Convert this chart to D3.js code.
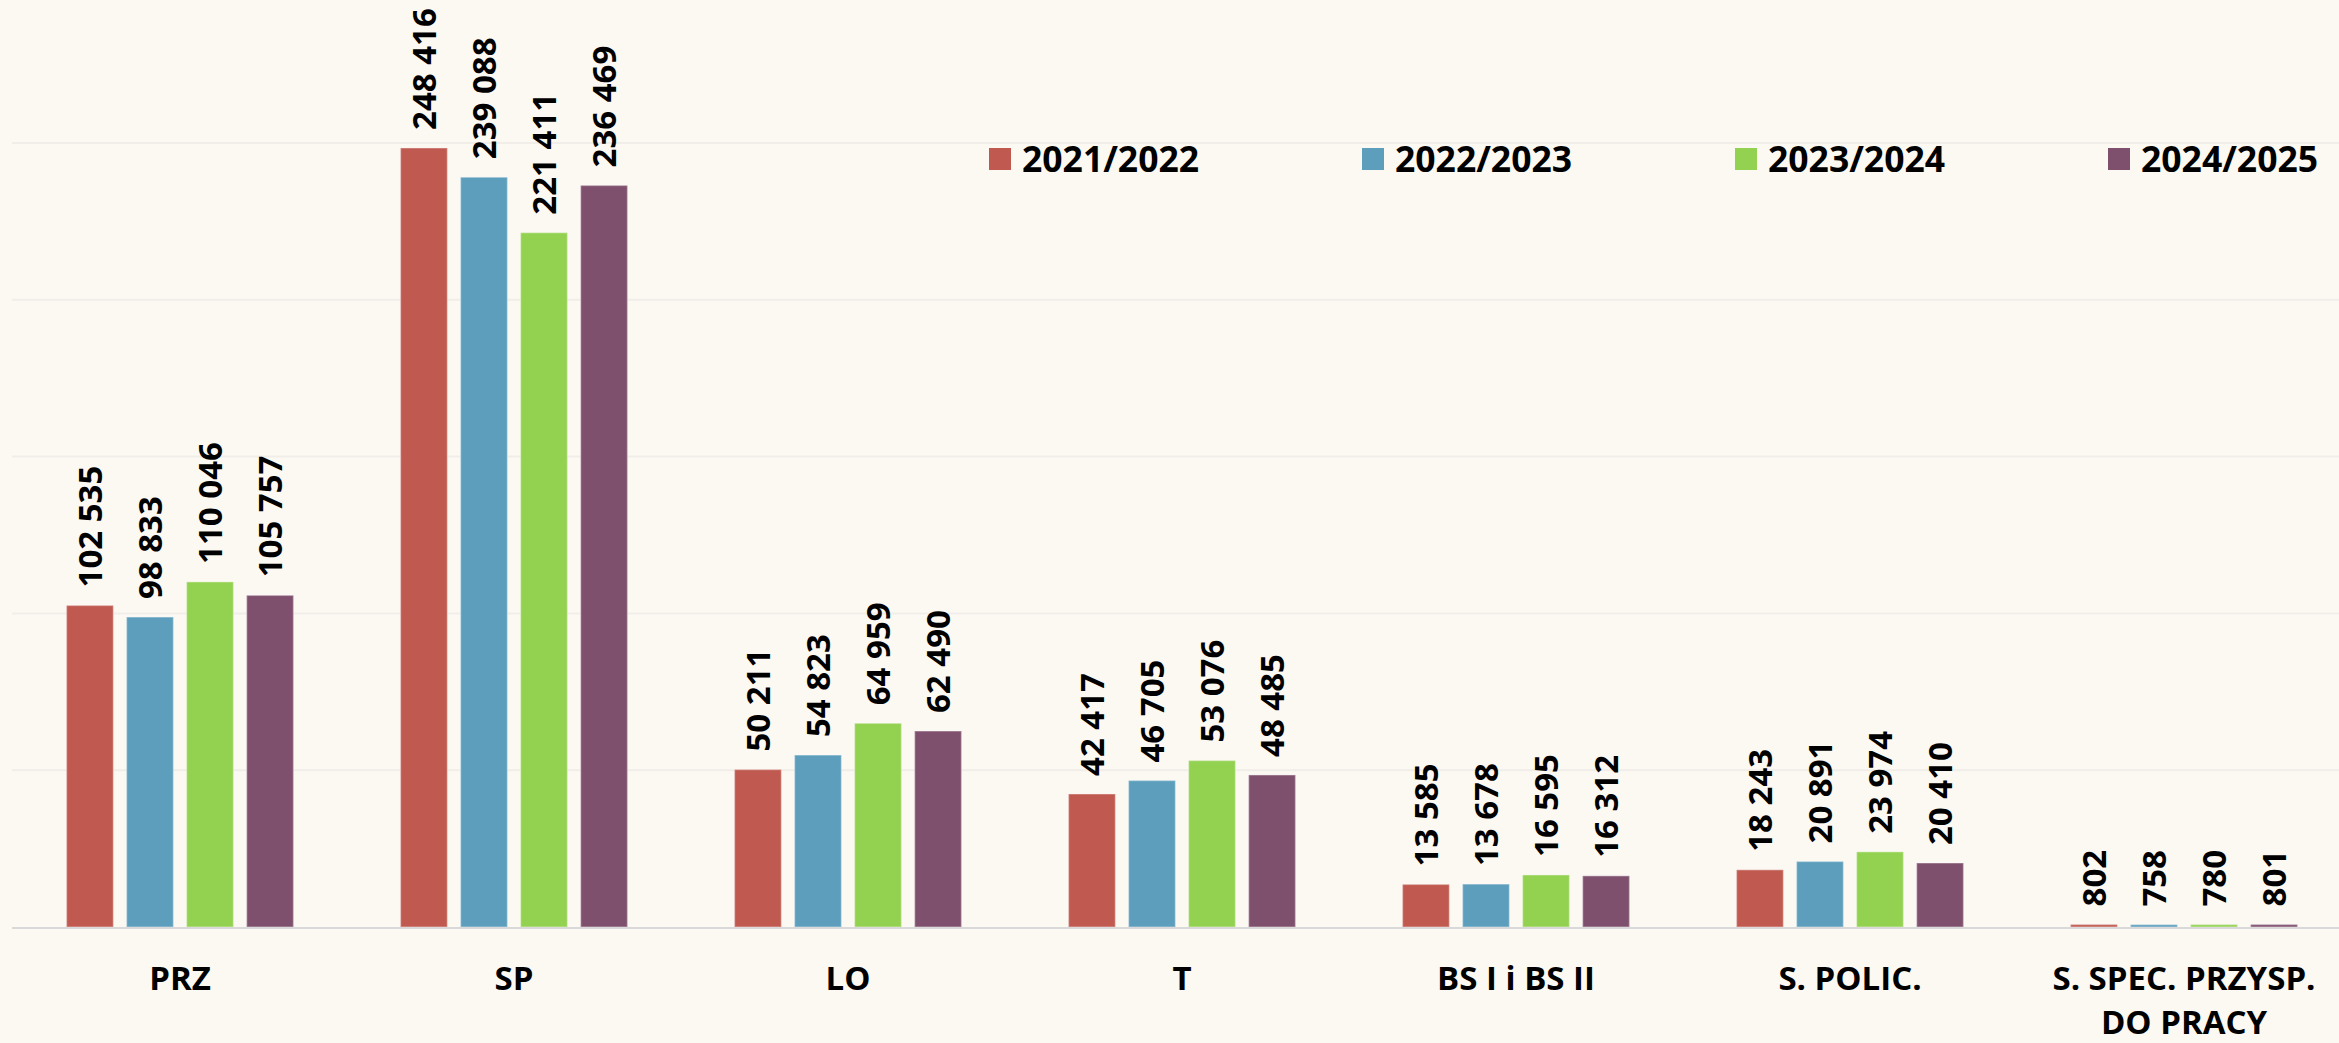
<!DOCTYPE html>
<html lang="pl">
  <head>
    <meta charset="UTF-8">
    <script src="https://d3js.org/d3.v7.min.js"></script>
    <title>Liczba uczniów</title>
    <style>
      html, body {
        margin: 0;
        padding: 0;
        background-color: #FCF8F2;
      }
      svg {
        display: block;
        font-family: "Open Sans", sans-serif;
      }
      .value-label {
        font-size: 33px;
        font-weight: 700;
        fill: #000;
      }
      .cat-label {
        font-size: 33px;
        font-weight: 700;
        fill: #000;
      }
      .legend-label {
        font-size: 35.5px;
        font-weight: 700;
        fill: #000;
      }
    </style>
  </head>
  <body>
    <div id="chart"></div>
    <script>
      // dane
      const categories = ["PRZ", "SP", "LO", "T", "BS I i BS II", "S. POLIC.", "S. SPEC. PRZYSP.\nDO PRACY"];
      const years = ["2021/2022", "2022/2023", "2023/2024", "2024/2025"];
      const values2122 = [102535, 248416, 50211, 42417, 13585, 18243, 802];
      const values2223 = [98833, 239088, 54823, 46705, 13678, 20891, 758];
      const values2324 = [110046, 221411, 64959, 53076, 16595, 23974, 780];
      const values2425 = [105757, 236469, 62490, 48485, 16312, 20410, 801];
      const yTicks = [0, 50000, 100000, 150000, 200000, 250000];

      const series = [values2122, values2223, values2324, values2425];
      const colors = ["#C0594F", "#5C9EBC", "#93D150", "#7F506E"];

      const width = 2339;
      const height = 1043;

      const svg = d3.select("#chart")
        .append("svg")
        .attr("width", width)
        .attr("height", height);

      const x0 = d3.scaleBand()
        .domain(categories)
        .range([13, 2351])
        .paddingInner(0.281)
        .paddingOuter(0.1405);

      const x1 = d3.scaleBand()
        .domain(years)
        .range([0, x0.bandwidth()])
        .paddingInner(0.22)
        .paddingOuter(0.11);

      const y = d3.scaleLinear()
        .domain([0, 250000])
        .range([927, 143]);

      const fmt = d3.formatLocale({ decimal: ",", thousands: " ", grouping: [3], currency: ["", " zł"] }).format(",d");

      // linie siatki
      svg.append("g")
        .selectAll("line")
        .data(yTicks.slice(1))
        .join("line")
        .attr("x1", 12)
        .attr("x2", width)
        .attr("y1", d => y(d))
        .attr("y2", d => y(d))
        .attr("stroke", "#F1EEEA")
        .attr("stroke-width", 2);

      // słupki
      const groups = svg.append("g")
        .selectAll("g")
        .data(categories)
        .join("g")
        .attr("transform", d => `translate(${x0(d)},0)`);

      const cells = groups.selectAll("g")
        .data((c, ci) => years.map((yr, si) => ({ yr, si, value: series[si][ci] })))
        .join("g");

      cells.append("rect")
        .attr("x", d => x1(d.yr))
        .attr("width", x1.bandwidth())
        .attr("y", d => y(d.value))
        .attr("height", d => y(0) - y(d.value))
        .attr("fill", d => colors[d.si])
        .attr("stroke", "#ffffff")
        .attr("stroke-opacity", 0.3)
        .attr("stroke-width", 1.5);

      cells.append("text")
        .attr("class", "value-label")
        .attr("transform", d => `translate(${x1(d.yr) + x1.bandwidth() / 2},${y(d.value) - 18}) rotate(-90)`)
        .attr("text-anchor", "start")
        .attr("dy", "0.36em")
        .text(d => fmt(d.value));

      // oś X
      svg.append("line")
        .attr("x1", 12)
        .attr("x2", width)
        .attr("y1", y(0) + 1)
        .attr("y2", y(0) + 1)
        .attr("stroke", "#D9D9D9")
        .attr("stroke-width", 2);

      const catLabels = svg.append("g")
        .selectAll("text")
        .data(categories)
        .join("text")
        .attr("class", "cat-label")
        .attr("text-anchor", "middle")
        .attr("x", d => x0(d) + x0.bandwidth() / 2)
        .attr("y", 990);

      catLabels.selectAll("tspan")
        .data(d => d.split("\n").map(line => ({ line, cx: x0(d) + x0.bandwidth() / 2 })))
        .join("tspan")
        .attr("x", d => d.cx)
        .attr("dy", (d, i) => i === 0 ? 0 : 44)
        .text(d => d.line);

      // legenda
      const legend = svg.append("g")
        .selectAll("g")
        .data(years)
        .join("g")
        .attr("transform", (d, i) => `translate(${989 + i * 373},148)`);

      legend.append("rect")
        .attr("width", 22)
        .attr("height", 22)
        .attr("fill", (d, i) => colors[i]);

      legend.append("text")
        .attr("class", "legend-label")
        .attr("x", 33)
        .attr("y", 24)
        .text(d => d);
    </script>
  </body>
</html>
